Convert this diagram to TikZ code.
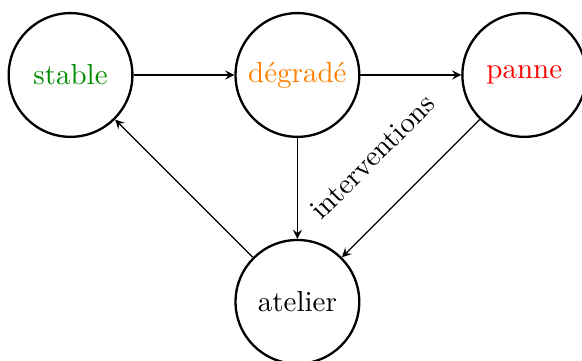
\documentclass[tikz,border=0pt]{standalone}
\usetikzlibrary{arrows}
\begin{document}
\begin{tikzpicture}[
    etat/.style={circle, draw, thick, minimum size=1.5cm, inner sep=0pt},
    fleche/.style={->, >=stealth},
  ]
  \useasboundingbox (-0.855,0.909) rectangle (6.2,-3.467);

  % states
  \node[etat, text=green!55!black] (stable) at (0,0) {stable};
  \node[etat, text=orange] (degrade) at (2.75,0) {dégradé};
  \node[etat, text=red] (panne) at (5.5,0) {panne};
  \node[etat] (atelier) at (2.75,-2.75) {atelier};

  % transitions
  \draw[fleche] (stable) -- (degrade);
  \draw[fleche] (degrade) -- (panne);
  \draw[fleche] (degrade) -- (atelier);
  \draw[fleche] (panne) -- (atelier);
  \draw[fleche] (atelier) -- (stable);

  \node[rotate=45] (interv) at (3.66,-0.99) {interventions};
\end{tikzpicture}
\end{document}
